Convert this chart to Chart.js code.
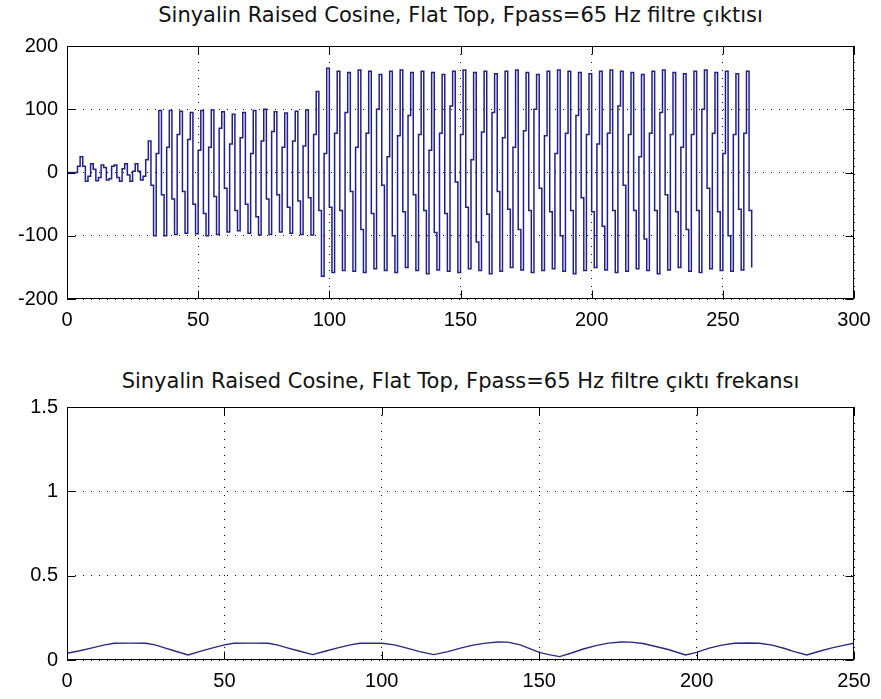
<!DOCTYPE html>
<html>
<head>
<meta charset="utf-8">
<script src="https://cdn.jsdelivr.net/npm/chart.js@4.4.0/dist/chart.umd.min.js"></script>
<style>
    body { margin: 0; background: #fff; width: 881px; height: 699px; overflow: hidden; position: relative; }
    canvas { position: absolute; left: 0; }
    .title { position: absolute; left: 67px; width: 787px; text-align: center; font: 21px "DejaVu Sans", sans-serif; color: #111; line-height: 24px; white-space: nowrap; }
</style>
</head>
<body>
<div class="title" id="top-title" style="top:3px"></div>
<div class="title" id="bottom-title" style="top:369px"></div>
<canvas id="top-chart" width="881" height="340" style="top:0"></canvas>
<canvas id="bottom-chart" width="881" height="359" style="top:340px"></canvas>
<script>
const topTitle = 'Sinyalin Raised Cosine, Flat Top, Fpass=65 Hz filtre çıktısı';
const bottomTitle = 'Sinyalin Raised Cosine, Flat Top, Fpass=65 Hz filtre çıktı frekansı';

// filter output, one value per sample (drawn as stairs)
const topSignal = [
    0, 0, 0, 0, 10, 25, 10, -14, -6, 14, 5, -13, -8, 12, 8, -12,
    -10, 10, 12, -8, -14, 6, 14, -4, -14, 2, 14, 2, -12, -6, 20, 50,
    -20, -100, 30, 98, -35,
    -100, 40, 98, -42, -98, 60, 97, -30, -96, 52, 95, -50, -97, 35, 98, -65,
    -100, 40, 99, -38, -98, 70, 96, -25, -94, 45, 92, -60, -92, 55, 95, -50,
    -96, 30, 98, -70, -99, 50, 100, -42, -98, 65, 96, -35, -94, 40, 94, -55,
    -96, 50, 97, -45, -98, 42, 99, -40, -99, 60, 128, -60,
    -164, 30, 165, -55,
    -158, 62, 160, -60, -155, 95, 158, -30, -156, 40, 162, -90, -158, 62, 160, -65,
    -152, 100, 155, -20, -155, 25, 160, -100, -158, 58, 162, -62, -150, 90, 158, -35,
    -155, 60, 160, -60, -160, 35, 158, -95, -154, 62, 155, -65, -156, 105, 160, -15,
    -158, 60, 162, -55, -152, 20, 158, -110, -155, 64, 160, -66, -160, 95, 156, -30,
    -156, 55, 160, -58, -150, 40, 162, -90, -154, 66, 158, -60, -158, 100, 155, -25,
    -155, 58, 160, -62, -152, 30, 162, -100, -156, 62, 160, -60, -160, 90, 158, -40,
    -155, 60, 156, -62, -150, 45, 160, -85, -154, 62, 162, -60, -158, 105, 160, -20,
    -156, 60, 158, -60, -152, 25, 155, -105, -155, 62, 160, -60, -160, 95, 162, -35,
    -154, 60, 158, -62, -150, 40, 156, -90, -156, 60, 160, -60, -158, 100, 162, -25,
    -152, 62, 158, -62, -155, 30, 160, -100, -156, 60, 156, -58, -154, 62, 160, -60,
    -150
];

// frequency response of the output
const bottomX = [0, 4, 8, 12, 15, 20, 25, 28, 31, 34, 38.5, 42, 46, 50, 53, 58, 64, 67, 70, 74,
    78, 82, 86, 90, 93, 97, 100, 104, 108, 112, 116.5, 121, 125, 129, 133, 137, 140, 144, 147, 150,
    153, 156.5, 160, 164, 168, 172, 176, 179, 183, 187, 191, 196.5, 200, 204, 208, 212, 216, 220, 224, 228,
    231, 235, 239, 243, 247, 250];
const bottomY = [0.040, 0.055, 0.072, 0.090, 0.099, 0.100, 0.099, 0.090, 0.072, 0.055, 0.030, 0.050, 0.070, 0.090, 0.099, 0.100, 0.099, 0.088, 0.072, 0.052,
    0.032, 0.052, 0.072, 0.090, 0.099, 0.100, 0.099, 0.090, 0.070, 0.050, 0.032, 0.050, 0.070, 0.088, 0.100, 0.107, 0.106, 0.090, 0.068, 0.045,
    0.032, 0.020, 0.040, 0.065, 0.085, 0.100, 0.107, 0.106, 0.098, 0.080, 0.062, 0.030, 0.045, 0.070, 0.088, 0.099, 0.101, 0.099, 0.088, 0.068,
    0.050, 0.030, 0.052, 0.072, 0.088, 0.099];

const topXTicks = [0, 50, 100, 150, 200, 250, 300];
const topYTicks = [-200, -100, 0, 100, 200];
const bottomXTicks = [0, 50, 100, 150, 200, 250];
const bottomYTicks = [0, 0.5, 1, 1.5];

const font = { family: 'Liberation Sans, Arial, sans-serif', size: 20 };

document.querySelector('#top-title').textContent = topTitle;
document.querySelector('#bottom-title').textContent = bottomTitle;

// matlab style box with inward ticks
const framePlugin = {
    id: 'frame',
    afterDatasetsDraw(chart) {
        const { ctx, chartArea: a, scales: { x, y } } = chart;
        const L = Math.round(a.left) + 0.5, R = Math.round(a.right) - 0.5;
        const T = Math.round(a.top) + 0.5, B = Math.round(a.bottom) - 0.5;
        const len = 8;
        ctx.save();
        ctx.strokeStyle = '#000';
        ctx.lineWidth = 1;
        ctx.strokeRect(L, T, R - L, B - T);
        ctx.beginPath();
        x.ticks.forEach(t => {
            const px = Math.round(x.getPixelForValue(t.value)) + 0.5;
            ctx.moveTo(px, B); ctx.lineTo(px, B - len);
            ctx.moveTo(px, T); ctx.lineTo(px, T + len);
        });
        y.ticks.forEach(t => {
            const py = Math.round(y.getPixelForValue(t.value)) + 0.5;
            ctx.moveTo(L, py); ctx.lineTo(L + len, py);
            ctx.moveTo(R, py); ctx.lineTo(R - len, py);
        });
        ctx.stroke();
        ctx.restore();
    }
};

function axis(ticks, fitFn) {
    return {
        type: 'linear',
        min: ticks[0],
        max: ticks[ticks.length - 1],
        afterBuildTicks: s => { s.ticks = ticks.map(v => ({ value: v })); },
        afterFit: fitFn,
        ticks: { color: '#000', font, padding: 9, maxRotation: 0, autoSkip: false, callback: v => String(v) },
        grid: { color: '#000', lineWidth: 1, drawTicks: false },
        border: { display: false, dash: [1, 7] }
    };
}

function makeChart(canvas, points, stepped, color, width, xTicks, yTicks, topPad, xHeight) {
    return new Chart(canvas.getContext('2d'), {
        type: 'line',
        data: {
            datasets: [{
                data: points,
                borderColor: color,
                borderWidth: width,
                pointRadius: 0,
                stepped: stepped,
                fill: false
            }]
        },
        options: {
            responsive: false,
            animation: false,
            layout: { padding: { left: 0, right: 27, top: topPad, bottom: 0 } },
            scales: {
                x: axis(xTicks, s => { s.height = xHeight; }),
                y: axis(yTicks, s => { s.width = 67; })
            },
            plugins: {
                legend: { display: false },
                tooltip: { enabled: false }
            }
        },
        plugins: [framePlugin]
    });
}

makeChart(document.querySelector('#top-chart'),
    topSignal.map((v, i) => ({ x: i, y: v })), true, '#20208c', 1.5,
    topXTicks, topYTicks, 46, 41);

makeChart(document.querySelector('#bottom-chart'),
    bottomX.map((v, i) => ({ x: v, y: bottomY[i] })), false, '#2a2a84', 1.4,
    bottomXTicks, bottomYTicks, 67, 39);
</script>
</body>
</html>
